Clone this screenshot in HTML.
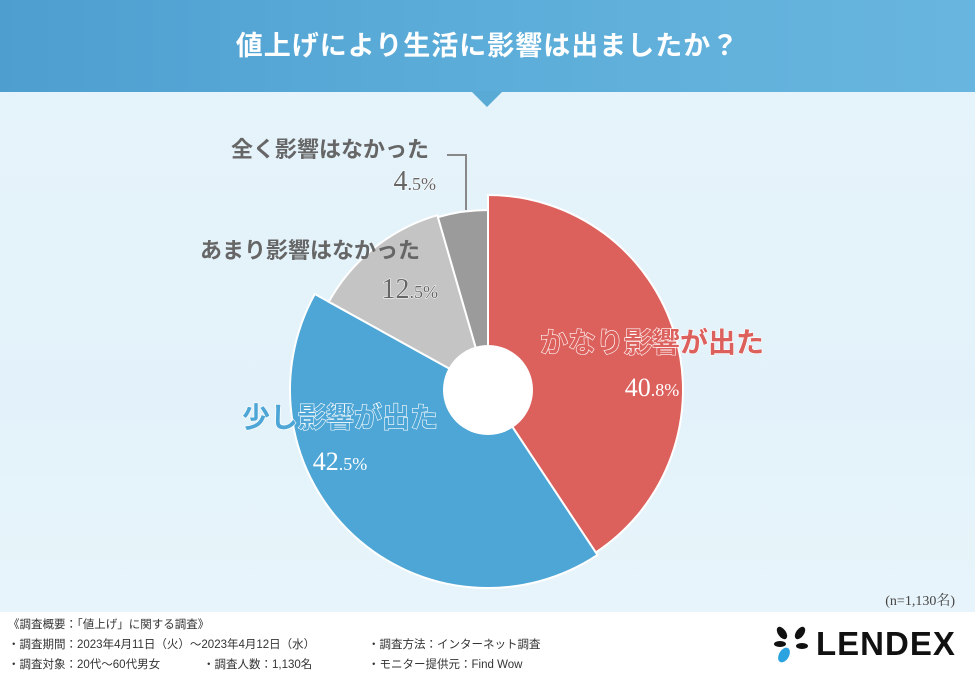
<!DOCTYPE html>
<html><head><meta charset="utf-8"><style>
body{margin:0;width:975px;height:675px;overflow:hidden;font-family:"Liberation Sans","Noto Sans CJK JP",sans-serif;}
#root{position:relative;width:975px;height:675px;background:linear-gradient(180deg,#e6f3fb 0%,#e3f2fa 60%,#e9f5fb 100%);}
.hdr{position:absolute;left:0;top:0;width:975px;height:92px;background:linear-gradient(90deg,#4e9fd0,#5cadd9 50%,#68b6df);}
.hdr h1{margin:0;color:#fff;font-size:27px;font-weight:bold;text-align:center;line-height:92px;letter-spacing:1px;}
.tri{position:absolute;left:471px;top:91px;width:0;height:0;border-left:16px solid transparent;border-right:16px solid transparent;border-top:16px solid #5aaad6;}
.foot{position:absolute;left:0;top:612px;width:975px;height:63px;background:#fff;}
.ft{position:absolute;font-size:11.5px;color:#333;white-space:nowrap;}
</style></head><body>
<div id="root">
<div class="hdr"><h1>値上げにより生活に影響は出ましたか？</h1></div>
<div class="tri"></div>
<svg id="chart" width="975" height="675" style="position:absolute;left:0;top:0"></svg>
<div style="position:absolute;right:20px;top:590px;font-size:14px;color:#444;font-family:'Liberation Serif','Noto Serif CJK SC',serif">(n=1,130名)</div>
<div class="foot">
<div class="ft" style="left:8px;top:4px">《調査概要：「値上げ」に関する調査》</div>
<div class="ft" style="left:8px;top:24px">・調査期間：2023年4月11日（火）～2023年4月12日（水）</div>
<div class="ft" style="left:368px;top:24px">・調査方法：インターネット調査</div>
<div class="ft" style="left:8px;top:44px">・調査対象：20代～60代男女</div>
<div class="ft" style="left:203px;top:44px">・調査人数：1,130名</div>
<div class="ft" style="left:368px;top:44px">・モニター提供元：Find Wow</div>
<div style="position:absolute;left:772px;top:12px;width:185px;height:40px">
<svg width="40" height="40" style="position:absolute;left:0;top:0">
<ellipse cx="10" cy="9" rx="4" ry="7" transform="rotate(-35 10 9)" fill="#111"/>
<ellipse cx="28" cy="9" rx="4" ry="7" transform="rotate(35 28 9)" fill="#111"/>
<ellipse cx="8" cy="20" rx="6" ry="3" fill="#111"/>
<ellipse cx="30" cy="22" rx="6" ry="3" fill="#111"/>
<ellipse cx="12" cy="31" rx="5" ry="8" transform="rotate(30 12 31)" fill="#2aa3e0"/>
</svg>
<div style="position:absolute;left:44px;top:2px;font-size:33px;font-weight:bold;color:#111;letter-spacing:1px;line-height:36px">LENDEX</div>
</div>
</div>
</div>
<script>
const categories=['かなり影響が出た','少し影響が出た','あまり影響はなかった','全く影響はなかった'];
const values=[40.8,42.5,12.5,4.5];
const colors=['#dc605c','#4ea6d6','#c4c4c4','#9b9b9b'];
const radii=[195,198,182,180];
const NS='http://www.w3.org/2000/svg';
const svg=document.getElementById('chart');
const cx=488,cy=390;
const total=values.reduce((a,b)=>a+b,0);
function pt(a,r){return [cx+r*Math.sin(a),cy-r*Math.cos(a)];}
let ang=0;
values.forEach((v,i)=>{
  const a0=ang,a1=ang+v/total*2*Math.PI;ang=a1;
  const r=radii[i];const p0=pt(a0,r),p1=pt(a1,r);
  const large=(a1-a0)>Math.PI?1:0;
  const p=document.createElementNS(NS,'path');
  p.setAttribute('d',`M${cx},${cy}L${p0[0]},${p0[1]}A${r},${r} 0 ${large} 1 ${p1[0]},${p1[1]}Z`);
  p.setAttribute('fill',colors[i]);p.setAttribute('stroke','#fff');p.setAttribute('stroke-width','2');
  
  
  svg.appendChild(p);
});
const hole=document.createElementNS(NS,'circle');
hole.setAttribute('cx',cx);hole.setAttribute('cy',cy);hole.setAttribute('r',45);hole.setAttribute('fill','#fff');


svg.appendChild(hole);
const line=document.createElementNS(NS,'path');
line.setAttribute('d','M447,155 L466,155 L466,210');line.setAttribute('stroke','#888');line.setAttribute('stroke-width','2');line.setAttribute('fill','none');


svg.appendChild(line);
const labelPos=[[652,352,396,'#dc605c','#fff'],[340,427,470,'#4ea6d6','#fff'],[310,258,298,'#666','none'],[330,157,190,'#666','none']];
categories.forEach((c,i)=>{
  const [x,y1,y2,fill,stroke]=labelPos[i];
  const t=document.createElementNS(NS,'text');
  t.setAttribute('x',x);t.setAttribute('y',y1);t.setAttribute('text-anchor','middle');
  t.setAttribute('font-size',i<2?28:22);t.setAttribute('font-weight','bold');t.setAttribute('fill',fill);
  if(stroke!=='none'){t.setAttribute('stroke',stroke);t.setAttribute('stroke-width','1.2');t.setAttribute('paint-order','stroke');}
  t.setAttribute('font-family','"Liberation Sans","Noto Sans CJK JP",sans-serif');
  t.textContent=c;
  
  
  svg.appendChild(t);
  const s=document.createElementNS(NS,'text');
  const ix=i<2?x:(i===2?438:436);
  s.setAttribute('x',ix);s.setAttribute('y',y2);s.setAttribute('text-anchor',i<2?'middle':'end');
  s.setAttribute('font-size',i<2?26:28);s.setAttribute('font-family','"Liberation Serif",serif');
  s.setAttribute('fill',i<2?'#fff':'#666');
  s.setAttribute('stroke',i<2?fill:'#fff');s.setAttribute('stroke-width',i<2?'1.5':'1');s.setAttribute('paint-order','stroke');
  const parts=values[i].toFixed(1).split('.');
  s.innerHTML=parts[0]+'<tspan font-size="18">.'+parts[1]+'%</tspan>';
  
  
  svg.appendChild(s);
});
</script>
</body></html>
